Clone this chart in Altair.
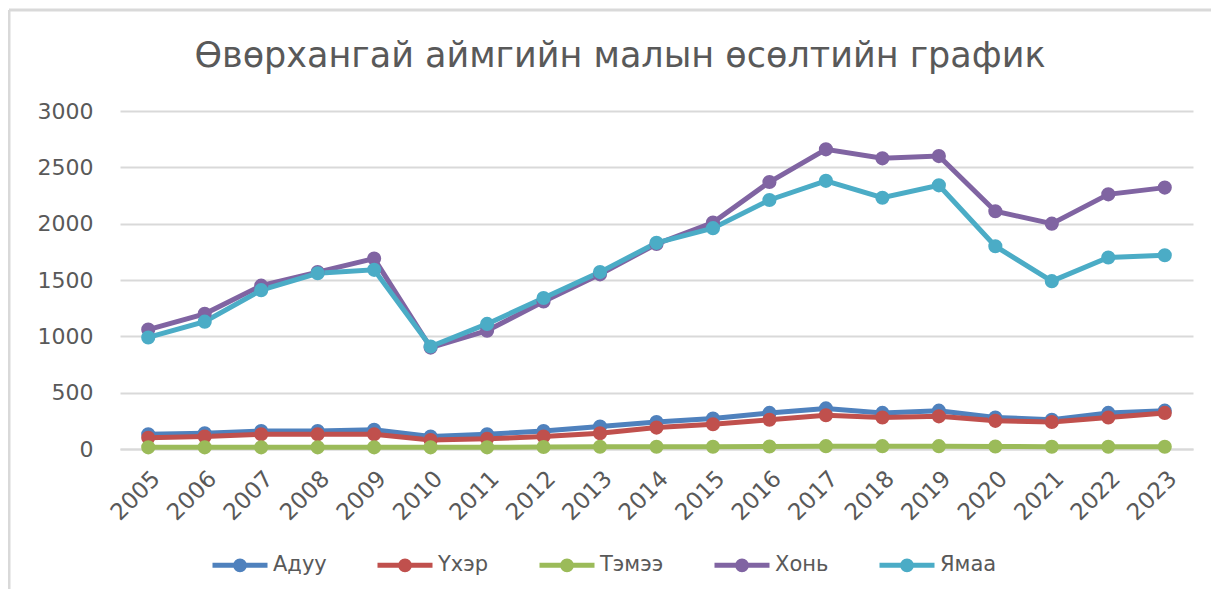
import altair as alt
import pandas as pd

years = [str(y) for y in range(2005, 2024)]
series_names = ["Адуу", "Үхэр", "Тэмээ", "Хонь", "Ямаа"]
series_colors = ["#4F81BD", "#C0504D", "#9BBB59", "#8064A2", "#4BACC6"]

aduu = [130, 140, 160, 160, 170, 110, 130, 160, 200, 240, 270, 320, 360, 320, 340, 280, 260, 320, 340]
ukher = [100, 110, 130, 130, 130, 80, 90, 110, 140, 190, 220, 260, 300, 280, 290, 250, 240, 280, 320]
temee = [15, 15, 15, 15, 15, 15, 15, 18, 20, 20, 20, 22, 25, 25, 25, 22, 20, 20, 20]
khon = [1060, 1200, 1450, 1570, 1690, 900, 1050, 1310, 1550, 1820, 2010, 2370, 2660, 2580, 2600, 2110, 2000, 2260, 2320]
yamaa = [990, 1130, 1410, 1560, 1590, 910, 1110, 1340, 1570, 1830, 1960, 2210, 2380, 2230, 2340, 1800, 1490, 1700, 1720]

title_text = "Өвөрхангай аймгийн малын өсөлтийн график"
y_ticks = [0, 500, 1000, 1500, 2000, 2500, 3000]

rows = []
for name, vals in zip(series_names, [aduu, ukher, temee, khon, yamaa]):
    for yr, v in zip(years, vals):
        rows.append({"year": yr, "series": name, "value": v})
df = pd.DataFrame(rows)
title_df = pd.DataFrame({"t": [title_text]})

FONT = "DejaVu Sans"
GRAY = "#595959"

legend_path = ("M-1,0 H1 "
               "M-0.16,0 A0.16,0.16 0 1,1 0.16,0 A0.16,0.16 0 1,1 -0.16,0 "
               "M-0.07,0 A0.07,0.07 0 1,1 0.07,0 A0.07,0.07 0 1,1 -0.07,0")

color = alt.Color(
    "series:N",
    scale=alt.Scale(domain=series_names, range=series_colors),
    sort=series_names,
    legend=alt.Legend(
        title=None,
        orient="none",
        direction="horizontal",
        legendX=90,
        legendY=424,
        symbolType=legend_path,
        symbolSize=3025,
        symbolStrokeWidth=5,
        symbolOpacity=1,
        labelFont=FONT,
        labelFontSize=21,
        labelColor=GRAY,
        labelOffset=3,
        columnPadding=40,
    ),
)

lines = alt.Chart(df).mark_line(
    strokeWidth=5,
    point=alt.OverlayMarkDef(filled=True, size=200, opacity=1),
).encode(
    x=alt.X(
        "year:O",
        sort=years,
        scale=alt.Scale(type="point", padding=0.5),
        axis=alt.Axis(
            title=None,
            labelAngle=-45,
            labelFont=FONT,
            labelFontSize=23,
            labelColor=GRAY,
            labelPadding=18,
            ticks=False,
            domain=True,
            domainColor="#d9d9d9",
            domainWidth=2,
            grid=False,
        ),
    ),
    y=alt.Y(
        "value:Q",
        scale=alt.Scale(domain=[0, 3000], nice=False),
        axis=alt.Axis(
            title=None,
            values=y_ticks,
            format="d",
            labelFont=FONT,
            labelFontSize=22,
            labelColor=GRAY,
            labelPadding=27,
            ticks=False,
            domain=False,
            grid=True,
            gridColor="#d9d9d9",
            gridWidth=2,
        ),
    ),
    color=color,
    order=alt.Order("year:O"),
)

title_mark = alt.Chart(title_df).mark_text(
    font=FONT,
    fontSize=35,
    color=GRAY,
    align="center",
    baseline="alphabetic",
).encode(text="t:N", x=alt.value(500), y=alt.value(-44))

border_left = alt.Chart(title_df).mark_rule(color="#d9d9d9", strokeWidth=3).encode(
    x=alt.value(-111), y=alt.value(-101), y2=alt.value(490)
)
border_top = alt.Chart(title_df).mark_rule(color="#d9d9d9", strokeWidth=3).encode(
    x=alt.value(-111), x2=alt.value(1100), y=alt.value(-101)
)

chart = alt.layer(border_left, border_top, title_mark, lines).properties(
    width=1073,
    height=338,
    background="white",
    autosize=alt.AutoSizeParams(type="none"),
    padding={"left": 112, "top": 103, "right": 18, "bottom": 140},
).configure_view(stroke=None)

chart.save("out.html", embed_options={"renderer": "svg", "actions": False})
